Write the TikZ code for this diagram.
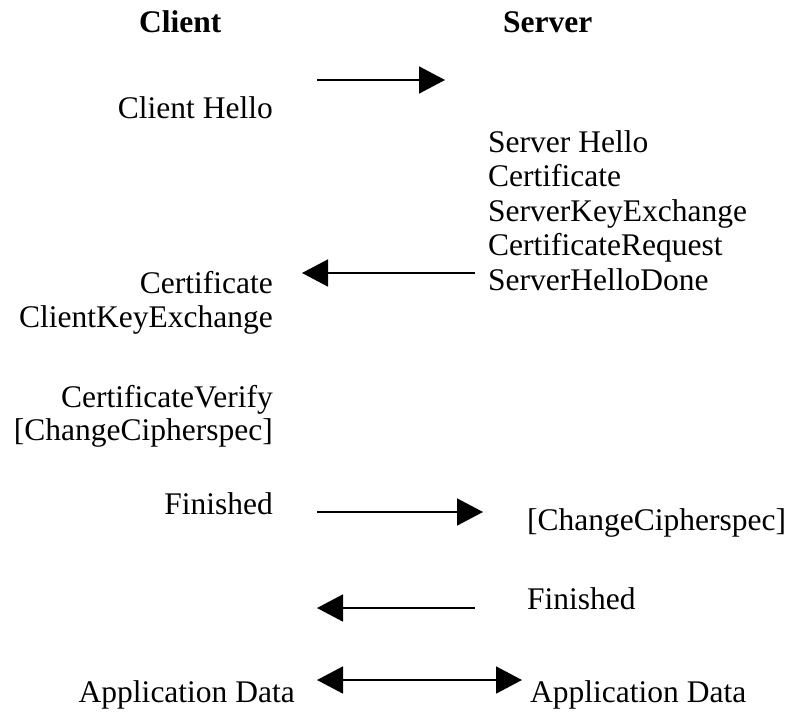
\documentclass[tikz,border=0pt]{standalone}
\usepackage{fontspec}
\setmainfont{Liberation Serif}
\usetikzlibrary{arrows.meta,positioning}

\begin{document}
\begin{tikzpicture}[x=1pt,y=-1pt,
    msg/.style={line width=1.6pt,-{Triangle[length=26pt,width=27pt]}},
    both/.style={line width=1.6pt,{Triangle[length=26pt,width=27pt]}-{Triangle[length=26pt,width=27pt]}},
    lbl/.style={inner sep=0pt,font=\fontsize{31.5}{34.3}\selectfont},
    hdr/.style={inner sep=0pt,font=\fontsize{31.5}{34.3}\selectfont\bfseries}]
  \useasboundingbox (0,0) rectangle (791,711);

  % headings
  \node[hdr,anchor=base west] (client) at (139,33) {Client};
  \node[hdr,anchor=base west] (server) at (503,33) {Server};

  % client side
  \node[lbl,anchor=base east] (chello) at (273,119) {Client Hello};
  \node[lbl,anchor=base east] (ccert)  at (273,293) {Certificate};
  \node[lbl,anchor=base east] (ckex)   at (273,327) {ClientKeyExchange};
  \node[lbl,anchor=base east] (cver)   at (273,407) {CertificateVerify};
  \node[lbl,anchor=base east] (cccs)   at (273,440) {[ChangeCipherspec]};
  \node[lbl,anchor=base east] (cfin)   at (273,514) {Finished};
  \node[lbl,anchor=base east] (cdata)  at (295,702) {Application Data};

  % server side
  \node[lbl,anchor=base west] (shello) at (488,153) {Server Hello};
  \node[lbl,anchor=base west] (scert)  at (488,187) {Certificate};
  \node[lbl,anchor=base west] (skex)   at (488,222) {ServerKeyExchange};
  \node[lbl,anchor=base west] (sreq)   at (488,255) {CertificateRequest};
  \node[lbl,anchor=base west] (sdone)  at (488,290) {ServerHelloDone};
  \node[lbl,anchor=base west] (sccs)   at (527,530) {[ChangeCipherspec]};
  \node[lbl,anchor=base west] (sfin)   at (527,609) {Finished};
  \node[lbl,anchor=base west] (sdata)  at (530,702) {Application Data};

  % message arrows
  \coordinate (m1a) at (317,80);  \coordinate (m1b) at (445,80);
  \coordinate (m2a) at (475,273); \coordinate (m2b) at (302,273);
  \coordinate (m3a) at (317,512); \coordinate (m3b) at (483,512);
  \coordinate (m4a) at (475,608); \coordinate (m4b) at (317,608);
  \coordinate (m5a) at (317,680); \coordinate (m5b) at (522,680);

  \draw[msg]  (m1a) -- (m1b);
  \draw[msg]  (m2a) -- (m2b);
  \draw[msg]  (m3a) -- (m3b);
  \draw[msg]  (m4a) -- (m4b);
  \draw[both] (m5a) -- (m5b);
\end{tikzpicture}
\end{document}
